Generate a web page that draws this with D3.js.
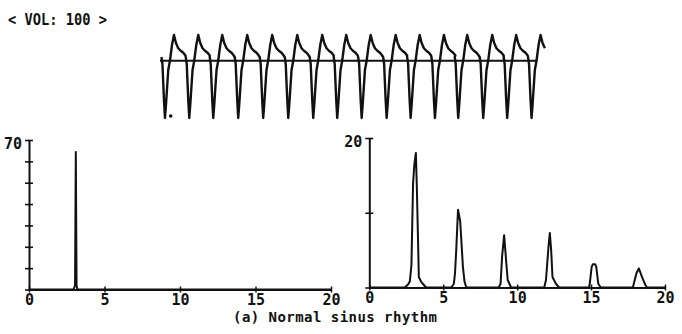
<!DOCTYPE html>
<html>
<head>
<meta charset="utf-8">
<script src="https://cdn.jsdelivr.net/npm/d3@7"></script>
<style>
  body { margin: 0; background: #fff; }
  text { font-family: "DejaVu Sans Mono", monospace; font-weight: bold; fill: #111; }
</style>
</head>
<body>
<script>
// values

const volLabel = "< VOL: 100 >";
const caption = "(a) Normal sinus rhythm";

// ECG strip: times (s) of the QRS troughs, and one beat traced around its trough [dt s, mV]
const beatTimes = [0.065, 0.383, 0.697, 1.024, 1.351, 1.679, 2.006, 2.32,
    2.64, 2.967, 3.281, 3.599, 3.904, 4.231, 4.545, 4.864];
const beatShape = [
    [-0.046, 0.15], [-0.033, -0.13], [-0.013, -1.57], [0, -2.29], [0.013, -1.77],
    [0.043, -0.37], [0.065, 0], [0.092, 0.63], [0.118, 1.03], [0.144, 0.71],
    [0.174, 0.5], [0.205, 0.4], [0.24, 0.32], [0.268, 0.21]
];
const stripLength = 5.04;
const baselineEnd = 4.93;

// left spectrum [freq, amplitude]
const spectrumA = [[0, 0], [2.95, 0], [3.05, 2], [3.1, 64.4], [3.15, 2], [3.2, 0], [20, 0]];

// right spectrum [freq, amplitude]
const spectrumB = [
    [0, 0], [2.40, 0], [2.62, 0.4], [2.74, 0.8], [2.85, 3], [2.96, 13.9], [3.05, 16.5],
    [3.15, 18.0], [3.22, 13], [3.30, 6], [3.35, 1.4], [3.5, 0.8], [3.75, 0.2], [3.86, 0],
    [5.55, 0], [5.72, 0.5], [5.80, 2], [5.88, 5.0], [6.0, 10.4], [6.08, 9.6], [6.15, 8.8],
    [6.25, 5.5], [6.33, 2.8], [6.44, 0.8], [6.56, 0],
    [8.75, 0], [8.88, 0.5], [8.98, 4.1], [9.12, 7.0], [9.25, 3.7], [9.36, 1.0], [9.59, 0],
    [11.83, 0], [11.95, 1.0], [12.12, 5.45], [12.21, 7.3], [12.30, 5.0], [12.39, 1.4],
    [12.62, 0.5], [12.84, 0],
    [14.86, 0], [14.91, 0.5], [15.04, 2.76], [15.12, 3.1], [15.2, 3.12], [15.28, 3.1],
    [15.35, 2.76], [15.49, 0.5], [15.65, 0],
    [17.83, 0], [17.89, 0.5], [18.07, 1.9], [18.23, 2.55], [18.45, 1.4], [18.68, 0.3],
    [18.79, 0], [20, 0]
];

const xTicks = [0, 5, 10, 15, 20];
const yTicksA = [0, 10, 20, 30, 40, 50, 60, 70];
const yTicksB = [0, 10, 20];

const svg = d3.select("body")
    .append("svg")
    .attr("width", 682)
    .attr("height", 334);

svg.append("text")
    .attr("x", 8)
    .attr("y", 25)
    .style("font-size", "16px")
    .attr("textLength", 99)
    .attr("lengthAdjust", "spacingAndGlyphs")
    .text(volLabel);

// ---- ECG strip
const xEcg = d3.scaleLinear().domain([0, stripLength]).range([160, 545]);
const yEcg = d3.scaleLinear().domain([-2.37, 1.23]).range([120, 30]);

const ecgPoints = [];
beatTimes.forEach(t => {
    beatShape.forEach(p => {
        const tt = t + p[0];
        if (tt >= 0 && tt <= stripLength) ecgPoints.push([tt, p[1]]);
    });
});

const ecgLine = d3.line()
    .x(d => xEcg(d[0]))
    .y(d => yEcg(d[1]));

svg.append("line")
    .attr("x1", xEcg(0)).attr("x2", xEcg(baselineEnd))
    .attr("y1", yEcg(0)).attr("y2", yEcg(0))
    .attr("stroke", "#111").attr("stroke-width", 1.8);

svg.append("path")
    .datum(ecgPoints)
    .attr("d", ecgLine)
    .attr("fill", "none")
    .attr("stroke", "#111")
    .attr("stroke-width", 2.4)
    .attr("stroke-linejoin", "round");

svg.append("circle")
    .attr("cx", xEcg(0.14)).attr("cy", yEcg(-2.21))
    .attr("r", 1.8).attr("fill", "#111");

// ---- spectrum panels
function panel(xr, yr, yMax, yTicks, series) {
    const x = d3.scaleLinear().domain([0, 20]).range(xr);
    const y = d3.scaleLinear().domain([0, yMax]).range(yr);

    const gx = svg.append("g")
        .attr("transform", `translate(0, ${yr[0]})`)
        .call(d3.axisBottom(x).tickValues(xTicks).tickSize(4).tickSizeOuter(0).tickPadding(1));
    gx.selectAll(".tick line").attr("y1", -3).attr("y2", 3).attr("stroke-width", 1.5);

    const gy = svg.append("g")
        .attr("transform", `translate(${xr[0]}, 0)`)
        .call(d3.axisLeft(y).tickValues(yTicks).tickSize(4).tickSizeOuter(0).tickPadding(3)
            .tickFormat(d => d === yMax ? d : ""));
    gy.selectAll(".tick line").attr("x1", -4).attr("x2", 4).attr("stroke-width", 1.6);
    gy.selectAll(".tick text").attr("dy", "0.55em");

    svg.selectAll(".domain").attr("stroke", "#111").attr("stroke-width", 2);
    svg.selectAll(".tick line").attr("stroke", "#111");
    svg.selectAll(".tick text").style("font-size", "15px").attr("fill", "#111");

    svg.append("path")
        .datum(series)
        .attr("d", d3.line().x(d => x(d[0])).y(d => y(d[1])))
        .attr("fill", "none")
        .attr("stroke", "#111")
        .attr("stroke-width", 2)
        .attr("stroke-linejoin", "round");
}

panel([29, 331], [289.5, 140], 70, yTicksA, spectrumA);
panel([369.3, 665], [287.5, 138], 20, yTicksB, spectrumB);

svg.append("text")
    .attr("x", 335)
    .attr("y", 322)
    .attr("text-anchor", "middle")
    .style("font-size", "14px")
    .attr("textLength", 204)
    .text(caption);
</script>
</body>
</html>
